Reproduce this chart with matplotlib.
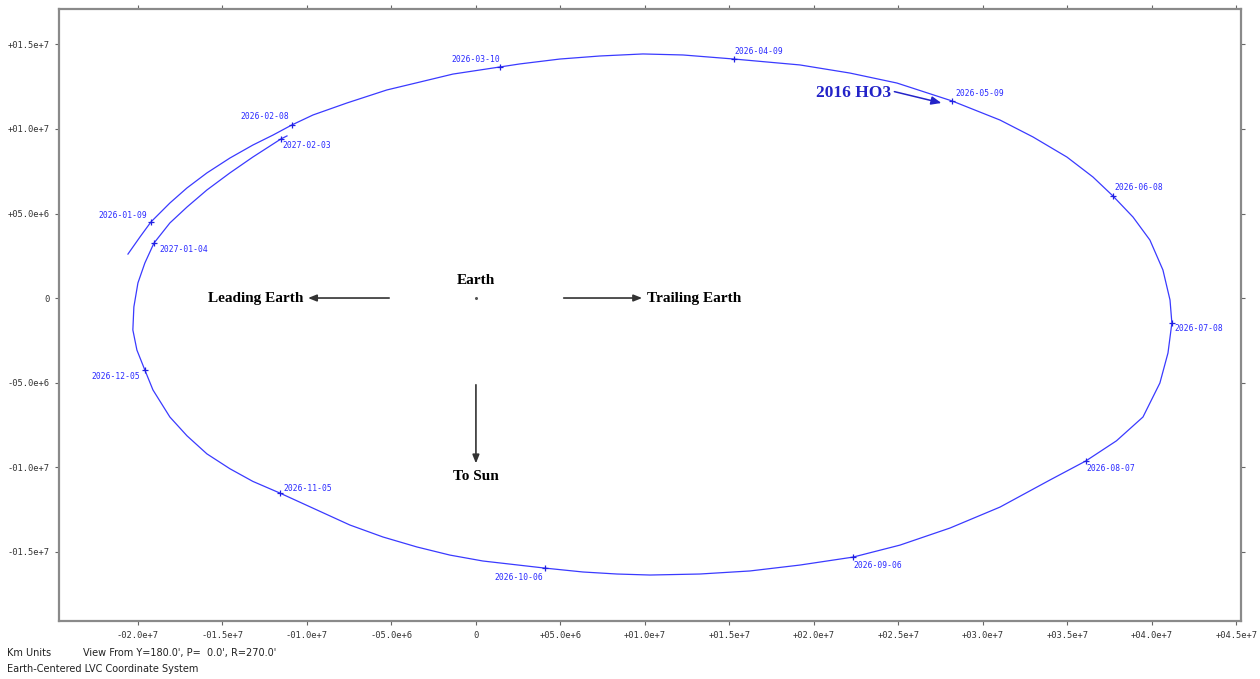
import matplotlib
matplotlib.use("Agg")
import matplotlib.pyplot as plt
from matplotlib.ticker import FuncFormatter, MultipleLocator
import numpy as np

# orbit of 2016 HO3 relative to Earth, in units of 1e6 km
orbit_x = [-20.59, -19.88, -19.23, -18.11, -17.10, -15.92, -14.56, -13.20, -12.01, -10.89,
           -9.64, -7.63, -5.27, -3.31, -1.36, 1.42, 2.60, 4.97, 7.34, 9.88,
           12.25, 15.27, 19.17, 22.13, 24.91, 28.17, 31.01, 32.96, 34.97, 36.51,
           37.69, 38.88, 39.88, 40.65, 41.07, 41.18, 40.95, 40.47, 39.47, 37.90,
           36.09, 33.96, 31.01, 28.05, 25.09, 22.31, 19.17, 16.21, 13.25, 10.30,
           8.34, 6.33, 4.08, 0.41, -1.54, -3.49, -5.50, -7.46, -9.41, -11.60,
           -13.20, -14.56, -15.92, -17.10, -18.11, -19.11, -19.59, -20.06, -20.30, -20.24,
           -20.00, -19.59, -19.05, -18.11, -17.10, -15.92, -14.56, -13.20, -11.54, -11.18]
orbit_y = [2.60, 3.61, 4.50, 5.62, 6.51, 7.40, 8.28, 9.05, 9.64, 10.24,
           10.83, 11.54, 12.31, 12.78, 13.25, 13.67, 13.85, 14.14, 14.32, 14.44,
           14.38, 14.14, 13.79, 13.31, 12.72, 11.66, 10.53, 9.53, 8.34, 7.16,
           6.04, 4.79, 3.43, 1.66, -0.12, -1.48, -3.25, -5.03, -7.04, -8.45,
           -9.64, -10.77, -12.37, -13.61, -14.62, -15.33, -15.80, -16.15, -16.33, -16.39,
           -16.33, -16.21, -15.98, -15.56, -15.21, -14.73, -14.14, -13.43, -12.54, -11.54,
           -10.85, -10.10, -9.22, -8.15, -7.04, -5.44, -4.26, -3.08, -1.89, -0.53,
           0.89, 2.07, 3.25, 4.44, 5.38, 6.39, 7.40, 8.34, 9.41, 9.59]

# dated positions along the orbit (1e6 km)
dates = ["2026-01-09", "2026-02-08", "2026-03-10", "2026-04-09", "2026-05-09",
         "2026-06-08", "2026-07-08", "2026-08-07", "2026-09-06", "2026-10-06",
         "2026-11-05", "2026-12-05", "2027-01-04", "2027-02-03"]
date_x = [-19.23, -10.89, 1.42, 15.27, 28.17, 37.69, 41.18, 36.09, 22.31, 4.08,
          -11.60, -19.59, -19.05, -11.54]
date_y = [4.50, 10.24, 13.67, 14.14, 11.66, 6.04, -1.48, -9.64, -15.33, -15.98,
          -11.54, -4.26, 3.25, 9.41]

# label placement (pixel offset, alignment) for each date
label_pos = [(-4, 6, "right"), (-3, 8, "right"), (0, 7, "right"), (0, 8, "left"),
             (3, 7, "left"), (2, 8, "left"), (3, -5, "left"), (1, -8, "left"),
             (0, -8, "left"), (-2, -9, "right"), (4, 5, "left"), (-5, -6, "right"),
             (5, -6, "left"), (2, -7, "left")]

SCALE = 1e6
BLUE = "#3a3aff"
DARK = "#222222"

fig = plt.figure(figsize=(12.6, 6.79), dpi=100)
ax = fig.add_axes([59 / 1260, 1 - 621 / 679, (1241 - 59) / 1260, (621 - 9) / 679])

ax.plot(np.array(orbit_x) * SCALE, np.array(orbit_y) * SCALE, color=BLUE, lw=0.9)
ax.plot(np.array(date_x) * SCALE, np.array(date_y) * SCALE, "+", color="#2020e0",
        ms=5, mew=0.9)
for d, x, y, (dx, dy, ha) in zip(dates, date_x, date_y, label_pos):
    ax.annotate(d, (x * SCALE, y * SCALE), xytext=(dx, dy), textcoords="offset pixels",
                ha=ha, va="center", fontsize=5.8, color="#2a2aff",
                family="DejaVu Sans Mono")

serif = dict(family="Liberation Serif", fontweight="bold", fontsize=11, color="black")

# Earth and direction arrows
ax.plot([0], [0], "o", color="#555555", ms=1.2)
ax.text(0, 0.65e6, "Earth", ha="center", va="bottom", **serif)
arr = dict(arrowstyle="-|>,head_length=0.5,head_width=0.2", color="#333333", lw=1.2)
ax.annotate("", xy=(-10.1e6, 0), xytext=(-4.97e6, 0), arrowprops=arr)
ax.text(-10.2e6, 0, "Leading Earth", ha="right", va="center", **serif)
ax.annotate("", xy=(10.0e6, 0), xytext=(5.03e6, 0), arrowprops=arr)
ax.text(10.15e6, 0, "Trailing Earth", ha="left", va="center", **serif)
ax.annotate("", xy=(0, -9.95e6), xytext=(0, -4.97e6), arrowprops=arr)
ax.text(0, -10.2e6, "To Sun", ha="center", va="top", **serif)

# asteroid name
ax.annotate("", xy=(27.7e6, 11.5e6), xytext=(24.6e6, 12.25e6),
            arrowprops=dict(arrowstyle="-|>,head_length=0.6,head_width=0.25",
                            color="#2323c8", lw=1.1))
ax.text(22.37e6, 12.13e6, "2016 HO3", ha="center", va="center",
        family="Liberation Serif", fontweight="bold", fontsize=12.5, color="#2323c8")

ax.set_xlim(-24.67e6, 45.27e6)
ax.set_ylim(-19.11e6, 17.1e6)


def sci_fmt(v, pos):
    if abs(v) < 1:
        return "0"
    sign = "+" if v > 0 else "-"
    e = int(np.floor(np.log10(abs(v)) + 1e-9))
    m = abs(v) / 10 ** e
    return f"{sign}{m:04.1f}e+{e}"


ax.xaxis.set_major_locator(MultipleLocator(5e6))
ax.yaxis.set_major_locator(MultipleLocator(5e6))
ax.xaxis.set_major_formatter(FuncFormatter(sci_fmt))
ax.yaxis.set_major_formatter(FuncFormatter(sci_fmt))
ax.tick_params(axis="both", which="both", direction="out", length=3, width=0.8,
               color="#666666", labelsize=6.3, labelcolor="#333333",
               top=True, right=True, pad=4)
for lab in ax.get_xticklabels() + ax.get_yticklabels():
    lab.set_family("DejaVu Sans Mono")
for s in ax.spines.values():
    s.set_color("#8a8a8a")
    s.set_linewidth(1.6)

# footer
foot = dict(fontsize=7, color=DARK, family="DejaVu Sans")
fig.text(7 / 1260, 1 - 653 / 679, "Km Units", va="center", **foot)
fig.text(83 / 1260, 1 - 653 / 679, "View From Y=180.0', P=  0.0', R=270.0'", va="center", **foot)
fig.text(7 / 1260, 1 - 669 / 679, "Earth-Centered LVC Coordinate System", va="center", **foot)

fig.savefig("out.png", dpi=100)
